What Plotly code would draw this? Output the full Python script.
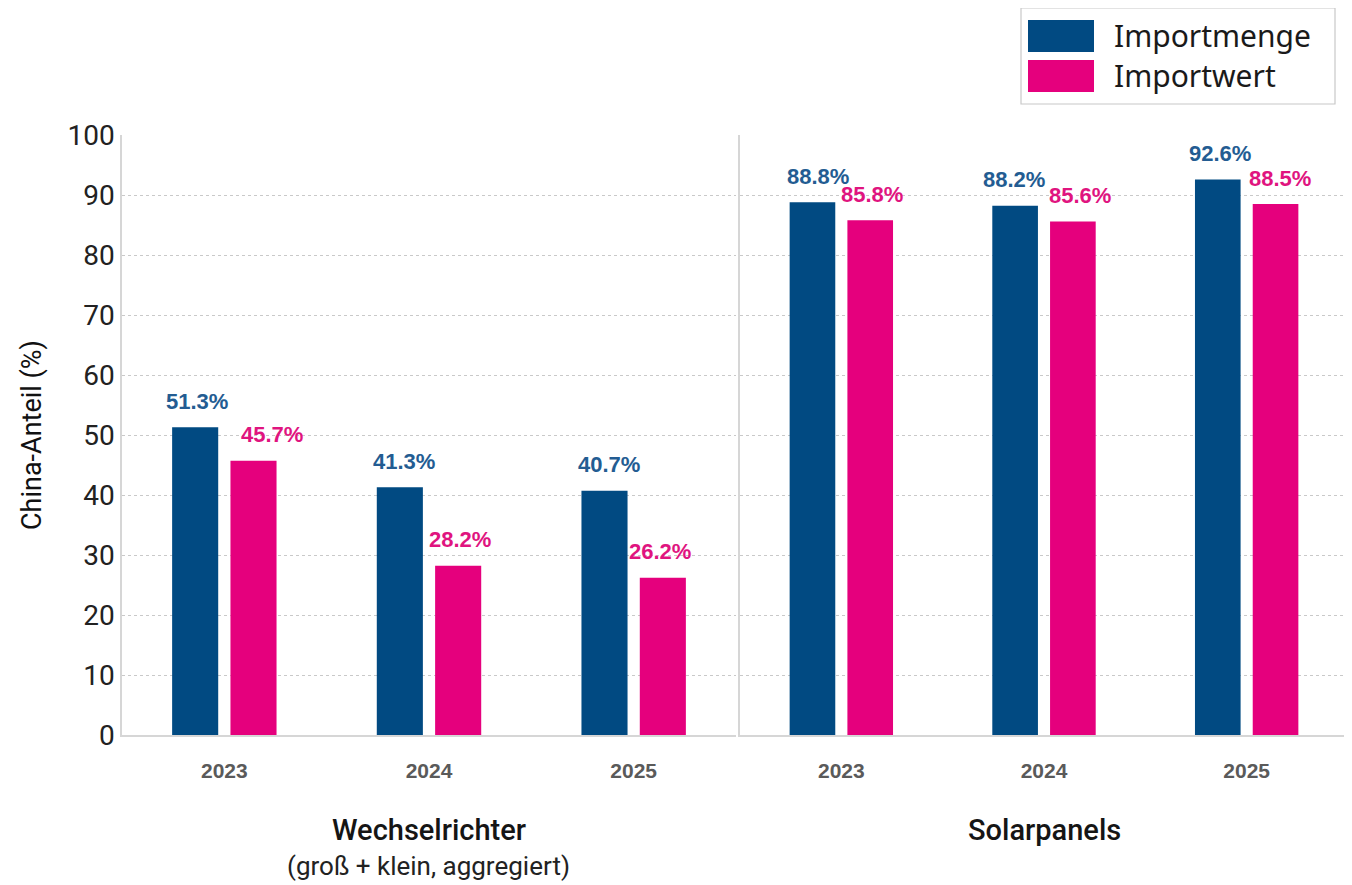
import plotly.graph_objects as go
from plotly.subplots import make_subplots

years = ["2023", "2024", "2025"]
groups = ["Wechselrichter", "Solarpanels"]
group_sub = ["(groß + klein, aggregiert)", ""]
series_names = ["Importmenge", "Importwert"]
menge_wr = [51.3, 41.3, 40.7]
wert_wr = [45.7, 28.2, 26.2]
menge_sp = [88.8, 88.2, 92.6]
wert_sp = [85.8, 85.6, 88.5]

BLUE = "#014a82"
PINK = "#e5007d"
BLUE_T = "#235c92"
PINK_T = "#e0147f"
GRID = "#c9c9c9"
AX = "#d6d6d6"

# label horizontal nudges (px) to avoid overlaps, style only
blue_dx = [[2, 4, 4], [6, -1, 2]]
pink_dx = [[18, 2, -3], [2, 7, 4]]

fig = make_subplots(rows=1, cols=2, shared_yaxes=False, horizontal_spacing=0.003)

data = [(menge_wr, wert_wr), (menge_sp, wert_sp)]
for ci, (m, w) in enumerate(data):
    fig.add_trace(go.Bar(x=years, y=m, name=series_names[0], marker_color=BLUE,
                         marker_line_width=0, showlegend=False), row=1, col=ci + 1)
    fig.add_trace(go.Bar(x=years, y=w, name=series_names[1], marker_color=PINK,
                         marker_line_width=0, showlegend=False), row=1, col=ci + 1)

fig.update_layout(barmode="group", bargap=0.43, bargroupgap=0.21)

# value labels
off = (1 - 0.43) / 4
for ci, (m, w) in enumerate(data):
    xref = "x" if ci == 0 else "x2"
    yref = "y" if ci == 0 else "y2"
    for i in range(3):
        fig.add_annotation(x=i - off, y=m[i], xref=xref, yref=yref, text=f"<b>{m[i]:.1f}%</b>",
                           showarrow=False, yanchor="middle", yshift=26, xshift=blue_dx[ci][i],
                           font=dict(family="Liberation Sans, Arial", size=22, color=BLUE_T))
        fig.add_annotation(x=i + off, y=w[i], xref=xref, yref=yref, text=f"<b>{w[i]:.1f}%</b>",
                           showarrow=False, yanchor="middle", yshift=26, xshift=pink_dx[ci][i],
                           font=dict(family="Liberation Sans, Arial", size=22, color=PINK_T))

for ci in (1, 2):
    fig.update_xaxes(type="category", showgrid=False, showline=True, linecolor=AX, linewidth=1.5,
                     ticks="", ticklabelstandoff=16,
                     tickfont=dict(family="Liberation Sans, Arial", size=21, color="#5a5a5a", weight="bold"),
                     row=1, col=ci)
    fig.update_yaxes(range=[0, 100], dtick=10, showgrid=True, gridcolor=GRID, griddash="dot",
                     gridwidth=1, showline=True, linecolor=AX, linewidth=1.5, zeroline=False,
                     ticks="", row=1, col=ci)

fig.update_yaxes(tickfont=dict(family="Roboto", size=28, color="#222222"),
                 title=dict(text="China-Anteil (%)", font=dict(family="Roboto", size=27, color="#111111"),
                            standoff=18), row=1, col=1)
fig.update_yaxes(showticklabels=False, row=1, col=2)

# group titles
for ci, g in enumerate(groups):
    xref = "x domain" if ci == 0 else "x2 domain"
    fig.add_annotation(x=0.5, y=-0.158, xref=xref, yref="paper", text=g, showarrow=False,
                       yanchor="middle", font=dict(family="Roboto", size=29, color="#151515", weight=500))
    if group_sub[ci]:
        fig.add_annotation(x=0.5, y=-0.218, xref=xref, yref="paper", text=group_sub[ci],
                           showarrow=False, yanchor="middle",
                           font=dict(family="Roboto", size=26, color="#222222"))

# custom legend (page pixel -> paper)
def px_x(p):
    return (p - 122) / 1226

def px_y(p):
    return (735 - p) / 600

fig.add_shape(type="rect", xref="paper", yref="paper", x0=px_x(1021), x1=px_x(1335),
              y0=px_y(104), y1=px_y(8), line=dict(color="#c8c8c8", width=1.2), fillcolor="white")
for k, (col, name) in enumerate([(BLUE, series_names[0]), (PINK, series_names[1])]):
    top = 20 + 40 * k
    fig.add_shape(type="rect", xref="paper", yref="paper", x0=px_x(1028), x1=px_x(1094),
                  y0=px_y(top + 32), y1=px_y(top), line_width=0, fillcolor=col)
    fig.add_annotation(x=px_x(1112), y=px_y(top + 16), xref="paper", yref="paper", text=name,
                       showarrow=False, xanchor="left", yanchor="middle",
                       font=dict(family="Noto Sans", size=30, color="#1a1a1a"))

fig.update_layout(
    width=1344, height=877,
    margin=dict(l=114, r=4, t=127, b=150),
    plot_bgcolor="white", paper_bgcolor="white",
    font=dict(family="Roboto"),
)
fig.update_xaxes(domain=[0, (736 - 122) / 1226], row=1, col=1)
fig.update_xaxes(domain=[(740 - 122) / 1226, 1], row=1, col=2)

fig.write_html("out.html")
